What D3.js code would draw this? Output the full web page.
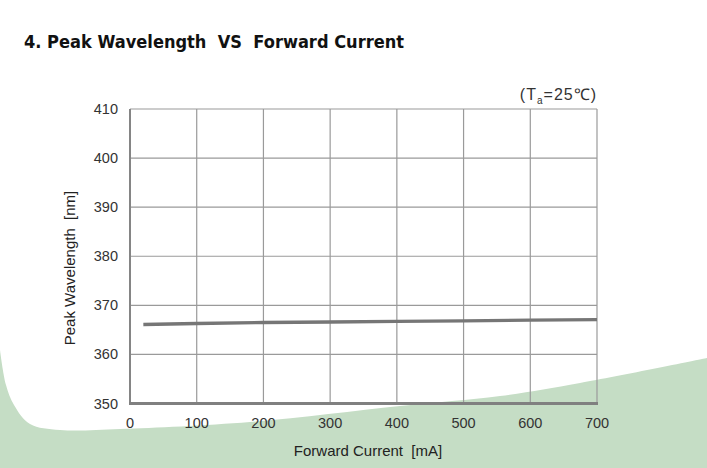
<!DOCTYPE html>
<html><head><meta charset="utf-8">
<script src="https://cdn.jsdelivr.net/npm/d3@7"></script>
<style>html,body{margin:0;padding:0;background:#fff;}svg{display:block;}</style>
</head><body>
<script>
const currents = [20, 100, 200, 300, 400, 500, 600, 700];
const wavelengths = [366.1, 366.3, 366.5, 366.6, 366.75, 366.85, 367.0, 367.1];
const xTicks = [0, 100, 200, 300, 400, 500, 600, 700];
const yTicks = [350, 360, 370, 380, 390, 400, 410];
const title = "4. Peak Wavelength  VS  Forward Current";
const xTitle = "Forward Current [mA]";
const yTitle = "Peak Wavelength [nm]";

const W = 707, H = 468;
const svg = d3.select("body").append("svg").attr("width", W).attr("height", H);

// decorative green background
const bg = [[0,350],[6,385],[14,405],[30,424],[60,430],[120,429],[250,422],[400,406],[500,396],[580,383],[707,358]];
const bgPath = d3.line().curve(d3.curveCatmullRom)(bg);
svg.append("path")
  .attr("d", bgPath + ` L707,${H} L0,${H} Z`)
  .attr("fill", "#c5ddc5");

const x = d3.scaleLinear().domain([0, 700]).range([130, 597]);
const y = d3.scaleLinear().domain([350, 410]).range([403.5, 109]);

const g = svg.append("g");
g.selectAll(".vg").data(xTicks.slice(1)).enter().append("line")
  .attr("x1", d => x(d)).attr("x2", d => x(d)).attr("y1", y(410)).attr("y2", y(350))
  .attr("stroke", "#9a9a9a").attr("stroke-width", 1.2);
g.selectAll(".hg").data(yTicks.slice(1)).enter().append("line")
  .attr("x1", x(0)).attr("x2", x(700)).attr("y1", d => y(d)).attr("y2", d => y(d))
  .attr("stroke", "#9a9a9a").attr("stroke-width", 1.2);
g.append("line").attr("x1", x(0)).attr("x2", x(0)).attr("y1", y(410)).attr("y2", y(350) + 1.5)
  .attr("stroke", "#858585").attr("stroke-width", 2);
g.append("line").attr("x1", x(0) - 1).attr("x2", x(700) + 1).attr("y1", y(350)).attr("y2", y(350))
  .attr("stroke", "#808080").attr("stroke-width", 3);

svg.selectAll(".yt").data(yTicks).enter().append("text")
  .attr("x", 118).attr("y", d => y(d) + 5)
  .attr("text-anchor", "end").attr("font-family", "Liberation Sans, Arial, sans-serif")
  .attr("font-size", 14.5).attr("fill", "#333").text(d => d);
svg.selectAll(".xt").data(xTicks).enter().append("text")
  .attr("x", d => x(d)).attr("y", 428)
  .attr("text-anchor", "middle").attr("font-family", "Liberation Sans, Arial, sans-serif")
  .attr("font-size", 14.5).attr("fill", "#333").text(d => d);

const line = d3.line().x((d, i) => x(currents[i])).y(d => y(d));
svg.append("path").attr("d", line(wavelengths))
  .attr("fill", "none").attr("stroke", "#767676").attr("stroke-width", 3.3);

svg.append("text").attr("x", 24).attr("y", 48)
  .attr("font-family", "DejaVu Sans, Verdana, sans-serif").attr("font-weight", "bold")
  .attr("font-size", 17).attr("fill", "#111")
  .attr("textLength", 380).attr("lengthAdjust", "spacingAndGlyphs")
  .style("white-space", "pre").text(title);
svg.append("text").attr("x", 368).attr("y", 456).attr("text-anchor", "middle")
  .attr("font-family", "Liberation Sans, Arial, sans-serif").attr("font-size", 15)
  .attr("fill", "#222").style("white-space", "pre").text(xTitle.replace(" [", "  ["));
svg.append("text").attr("transform", "translate(75,268) rotate(-90)").attr("text-anchor", "middle")
  .attr("font-family", "Liberation Sans, Arial, sans-serif").attr("font-size", 15)
  .attr("fill", "#222").style("white-space", "pre").text(yTitle.replace(" [", "  ["));
const ta = svg.append("text").attr("x", 597).attr("y", 100).attr("text-anchor", "end")
  .attr("font-family", "Liberation Sans, Arial, sans-serif").attr("font-size", 16)
  .attr("letter-spacing", 1).attr("fill", "#333");
ta.append("tspan").text("(T");
ta.append("tspan").attr("font-size", 10).attr("dy", 4).text("a");
ta.append("tspan").attr("dy", -4).text("=25℃)");
</script>
</body></html>
